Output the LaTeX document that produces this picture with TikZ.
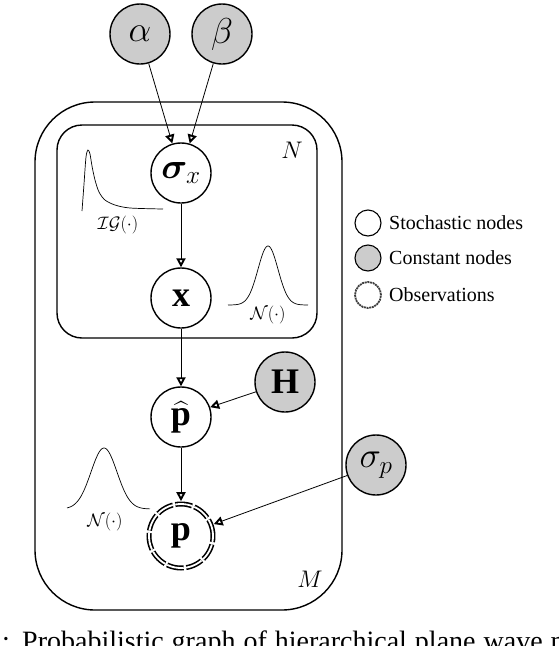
\RequirePackage{fix-cm}
\documentclass[tikz,border=0pt]{standalone}
\usepackage{amsmath,bm}
\usepackage{fontspec}
\setmainfont{Liberation Serif}
\usetikzlibrary{arrows.meta}
\tikzset{
  var/.style={circle, draw, line width=1.4pt, minimum size=60pt, inner sep=0pt, fill=white,
              font=\fontsize{36}{40}\selectfont},
  const/.style={var, fill=gray!40},
  obsnode/.style={var, minimum size=64pt, line width=1.6pt, double=white, double distance=1.8pt,
              dash pattern=on 17pt off 2.5pt},
  edge/.style={line width=0.8pt, -{Triangle[open,length=9pt,width=9pt,line width=1.9pt]}},
  plate/.style={draw, line width=1.4pt},
  platelabel/.style={font=\fontsize{24}{28}\selectfont},
  distlabel/.style={font=\fontsize{18}{21}\selectfont},
  curve/.style={line width=0.7pt},
  legcirc/.style={circle, draw, line width=1.1pt, minimum size=26pt, inner sep=0pt},
  legtext/.style={anchor=west, inner sep=0pt, font=\fontsize{20}{22}\selectfont},
  captext/.style={anchor=base west, inner sep=0pt, font=\fontsize{28}{30}\selectfont},
}
\begin{document}
\begin{tikzpicture}[x=1pt,y=-1pt]
\useasboundingbox (0,0) rectangle (558,646);
% plates
\draw[plate, rounded corners=60pt] (35,102) rectangle (342,610);
\draw[plate, rounded corners=25pt] (57,125) rectangle (317,338);
\node[platelabel] (Nlab) at (292,150) {$N$};
\node[platelabel] (Mlab) at (310,579) {$M$};
% distribution sketches
\draw[curve] plot[smooth] coordinates {(82,211) (84,184) (86,157) (88,150) (90,154) (92,166) (95,180) (99,192) (105,200) (115,205) (130,208) (163,209)};
\node[distlabel] (iglab) at (118,225) {$\mathcal{IG}(\cdot)$};
\draw[curve] plot[domain=-40:40, samples=80] ({268+\x}, {305-59*exp(-(\x/10)^2/2)});
\node[distlabel] (n1lab) at (268,315) {$\mathcal{N}(\cdot)$};
\draw[curve] plot[domain=-37:46, samples=80] ({104+\x}, {509-61*exp(-(\x/13)^2/2)});
\node[distlabel] (n2lab) at (105,522) {$\mathcal{N}(\cdot)$};
% nodes
\node[const] (alpha) at (140,34) {$\alpha$};
\node[const] (beta) at (222,34) {$\beta$};
\node[var] (sx) at (181,173) {$\bm{\sigma}_x$};
\node[var] (x) at (181,298) {$\mathbf{x}$};
\node[var] (ph) at (181,417) {$\widehat{\mathbf{p}}$};
\node[const] (H) at (285,382) {$\mathbf{H}$};
\node[const] (sp) at (376,465) {$\sigma_p$};
\node[obsnode] (p) at (181,536) {$\mathbf{p}$};
% edges
\draw[edge] (alpha) -- (sx);
\draw[edge] (beta) -- (sx);
\draw[edge] (sx) -- (x);
\draw[edge] (x) -- (ph);
\draw[edge] (H) -- (ph);
\draw[edge, shorten >=2pt] (ph) -- (p);
\draw[edge, shorten >=2pt] (sp) -- (p);
% legend
\node[legcirc] (l1) at (368,223) {};
\node[legcirc, fill=gray!40] (l2) at (368,258) {};
\node[legcirc, draw=black!75, line width=1.8pt, dash pattern=on 2pt off 0.7pt] (l3) at (368,295) {};
\node[legtext] (t1) at (389,223) {Stochastic nodes};
\node[legtext] (t2) at (389,258) {Constant nodes};
\node[legtext] (t3) at (389,295) {Observations};
% caption (cut by the page edge)
\begin{scope}
\clip (0,0) rectangle (558,646);
\node[captext] (capcolon) at (2,650) {:};
\node[captext] (cap) at (22,650) {\spaceskip=8pt plus 1pt Probabilistic graph of hierarchical plane wave model};
\end{scope}
\end{tikzpicture}
\end{document}
